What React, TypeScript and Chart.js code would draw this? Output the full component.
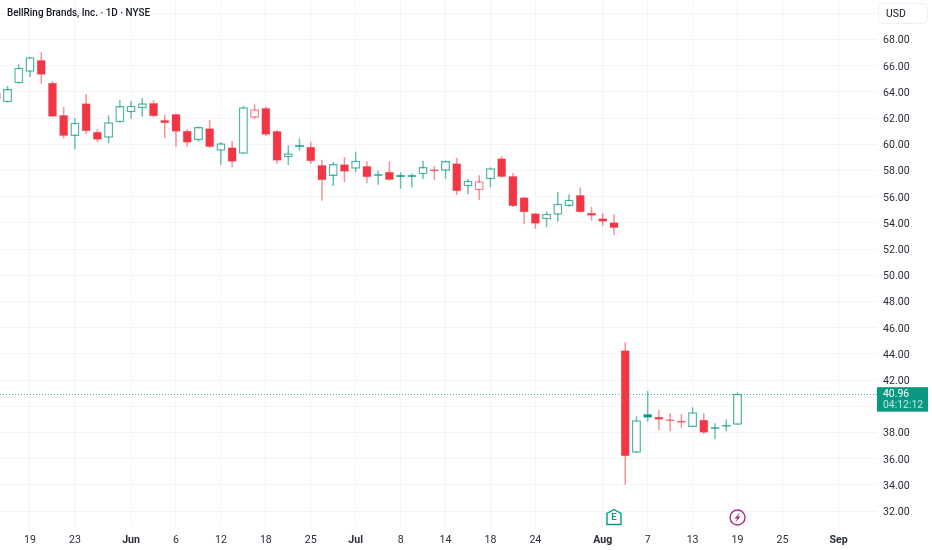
import React, { useEffect, useRef } from "react";
import { Chart, registerables } from "chart.js";

Chart.register(...registerables);

const titleText = "BellRing Brands, Inc. · 1D · NYSE";
const currency = "USD";
const countdown = "04:12:12";
const lastPrice = 40.96;

const indices = Array.from({ length: 67 }, (_, i) => i - 3);
const opens = [63.92,63.21,64.66,65.54,66.43,64.70,62.24,60.63,63.13,60.96,60.50,61.68,62.44,62.75,63.15,61.85,62.31,61.04,60.30,61.22,59.51,59.77,59.28,62.03,62.77,61.01,59.01,59.79,59.82,58.42,57.58,58.47,58.14,58.34,57.71,57.91,57.68,57.48,57.71,58.09,57.98,58.55,56.79,56.49,57.33,58.93,57.58,55.95,54.73,54.27,54.62,55.29,56.13,54.78,54.35,54.04,44.27,36.45,39.41,39.20,38.85,38.85,38.42,38.97,38.32,38.44,38.59];
const highs = [63.99,64.45,66.11,66.66,67.02,64.83,62.85,62.01,63.84,61.14,62.21,63.38,63.30,63.53,63.36,62.26,62.35,61.14,61.37,61.85,60.17,60.25,62.92,63.05,62.87,61.09,59.92,60.46,60.21,58.82,58.65,59.03,59.43,58.70,57.98,58.70,57.86,57.78,58.75,58.32,58.75,58.98,57.35,57.63,58.24,59.08,57.81,55.98,54.75,54.88,56.36,56.18,56.69,55.21,54.75,54.65,44.88,39.23,41.16,39.71,39.46,39.41,39.92,39.46,38.70,39.00,41.06];
const lows = [63.38,63.19,64.64,65.14,64.63,62.08,60.43,59.62,60.79,60.15,60.07,61.66,61.95,62.11,62.08,60.48,59.82,59.82,60.20,59.72,58.42,58.24,59.26,61.95,60.63,58.52,58.42,59.51,58.49,55.69,56.82,57.12,57.88,57.02,56.91,57.25,56.61,56.72,57.35,57.27,57.37,56.15,56.18,55.75,56.72,57.45,55.21,53.89,53.55,53.66,54.09,55.23,54.79,54.17,53.76,53.07,34.01,36.43,38.82,38.18,38.09,38.32,38.41,37.88,37.50,38.09,38.57];
const closes = [63.46,64.22,65.85,66.64,65.31,62.11,60.63,61.65,60.99,60.35,61.68,62.92,62.95,63.13,62.14,61.60,60.96,60.12,61.32,59.79,60.07,58.67,62.82,62.67,60.73,58.75,59.32,59.87,58.71,57.25,58.50,57.91,58.75,57.48,57.58,57.27,57.48,57.66,58.27,57.94,58.72,56.41,57.22,57.17,58.17,57.50,55.26,54.81,53.94,54.70,55.46,55.77,54.81,54.55,54.09,53.61,36.18,38.93,39.13,38.97,38.93,38.74,39.54,37.98,38.26,38.49,40.96];

const xTickIndices = [0, 4, 9, 13, 17, 21, 25, 29, 33, 37, 41, 45, 51, 55, 59, 63, 67, 72];
const xTickLabels = ["19", "23", "Jun", "6", "12", "18", "25", "Jul", "8", "14", "18", "24", "Aug", "7", "13", "19", "25", "Sep"];
const boldLabels = ["Jun", "Jul", "Aug", "Sep"];
const yTickValues = [70, 68, 66, 64, 62, 60, 58, 56, 54, 52, 50, 48, 46, 44, 42, 40, 38, 36, 34, 32];
const hiddenYTicks = [70];
const earningsIndex = 52;
const dividendIndex = 63;

const RED = "#F23645";
const GREEN = "#089981";
const GREEN_SOFT = "rgba(8,153,129,0.7)";
const RED_SOFT = "rgba(242,54,69,0.6)";
const GREEN_WICK = "rgba(8,153,129,0.6)";
const RED_WICK = "rgba(242,54,69,0.55)";
const GRID = "#f3f4f6";
const FONT = "Roboto, 'Noto Sans', sans-serif";

const candleColor = (i: number) => (i === 0 ? RED : closes[i] >= closes[i - 1] ? GREEN : RED);
const hollow = (i: number) => closes[i] > opens[i];

const overlay = {
  id: "overlay",
  beforeDraw(chart: any) {
    // Nudge the price-axis labels down to sit centred on their gridlines
    chart.scales.y.getLabelItems(chart.chartArea).forEach((item: any) => {
      item.options.translation = [item.options.translation[0], item.options.translation[1] + 1.3];
    });
  },
  afterDatasetsDraw(chart: any) {
    const { ctx, scales, chartArea } = chart;
    const y = scales.y.getPixelForValue(lastPrice);
    ctx.save();
    ctx.strokeStyle = "rgba(8,153,129,0.75)";
    ctx.lineWidth = 1;
    ctx.setLineDash([1, 2]);
    ctx.beginPath();
    ctx.moveTo(chartArea.left, Math.round(y) + 0.5);
    ctx.lineTo(chartArea.right, Math.round(y) + 0.5);
    ctx.stroke();
    ctx.setLineDash([]);
    ctx.restore();
  },
  afterDraw(chart: any) {
    const { ctx, scales } = chart;
    const y = scales.y.getPixelForValue(lastPrice);
    ctx.save();
    ctx.fillStyle = GREEN;
    ctx.fillRect(877, y - 6.5, 51, 24.5);
    ctx.textBaseline = "middle";
    ctx.textAlign = "left";
    ctx.font = `10.4px ${FONT}`;
    ctx.fillStyle = "#ffffff";
    ctx.fillText(lastPrice.toFixed(2), 883, y + 1);
    ctx.fillStyle = "rgba(255,255,255,0.75)";
    ctx.fillText(countdown, 883, y + 12);

    ctx.fillStyle = "#131722";
    ctx.font = `500 11px ${FONT}`;
    ctx.fillText(titleText, 7, 13.5, 143);

    ctx.strokeStyle = "#eef0f3";
    ctx.beginPath();
    ctx.roundRect(878.5, 3.5, 49, 20, 4);
    ctx.stroke();
    ctx.fillStyle = "#131722";
    ctx.font = `10.4px ${FONT}`;
    ctx.fillText(currency, 886, 14);

    const ex = scales.x.getPixelForValue(earningsIndex);
    ctx.strokeStyle = GREEN;
    ctx.lineWidth = 1.4;
    ctx.beginPath();
    ctx.moveTo(ex, 509.5);
    ctx.lineTo(ex + 7, 513.5);
    ctx.lineTo(ex + 7, 524.5);
    ctx.lineTo(ex - 7, 524.5);
    ctx.lineTo(ex - 7, 513.5);
    ctx.closePath();
    ctx.stroke();
    ctx.fillStyle = GREEN;
    ctx.font = `bold 9.5px ${FONT}`;
    ctx.textAlign = "center";
    ctx.fillText("E", ex, 518);

    const dx = scales.x.getPixelForValue(dividendIndex);
    ctx.strokeStyle = "#b42c83";
    ctx.lineWidth = 1.4;
    ctx.beginPath();
    ctx.arc(dx, 517.5, 7.5, 0, Math.PI * 2);
    ctx.stroke();
    ctx.fillStyle = "#b42c83";
    ctx.beginPath();
    ctx.moveTo(dx + 2.5, 512.5);
    ctx.lineTo(dx - 3, 518.5);
    ctx.lineTo(dx - 0.3, 518.5);
    ctx.lineTo(dx - 2.2, 522.5);
    ctx.lineTo(dx + 3, 516.5);
    ctx.lineTo(dx + 0.4, 516.5);
    ctx.closePath();
    ctx.fill();
    ctx.restore();
  },
};

const noPadding = (s: any) => {
  s.paddingLeft = 0;
  s.paddingRight = 0;
  s.paddingTop = 0;
  s.paddingBottom = 0;
};

export default function App() {
  const ref = useRef<HTMLCanvasElement | null>(null);

  useEffect(() => {
    const chart = new Chart(ref.current as HTMLCanvasElement, {
      type: "bar",
      data: {
        datasets: [
          {
            label: "Open/Close",
            order: 0,
            data: indices.map((x, i) => ({ x, y: [opens[i], closes[i]] })),
            barThickness: 9,
            minBarLength: 2,
            inflateAmount: 0,
            borderSkipped: false,
            borderWidth: indices.map((_, i) => (hollow(i) ? 1.5 : 0.5)),
            borderColor: indices.map((_, i) =>
              hollow(i)
                ? candleColor(i) === GREEN
                  ? GREEN_SOFT
                  : RED_SOFT
                : candleColor(i) === GREEN
                ? "rgba(8,153,129,0.5)"
                : "rgba(242,54,69,0.5)"
            ),
            backgroundColor: indices.map((_, i) =>
              hollow(i) ? "#ffffff" : candleColor(i)
            ),
          },
          {
            label: "High/Low",
            order: 1,
            data: indices.map((x, i) => ({ x, y: [lows[i], highs[i]] })),
            barThickness: 1.5,
            inflateAmount: 0,
            borderWidth: 0,
            backgroundColor: indices.map((_, i) =>
              candleColor(i) === GREEN ? GREEN_WICK : RED_WICK
            ),
          },
        ],
      } as any,
      options: {
        animation: false,
        responsive: false,
        devicePixelRatio: 1,
        layout: { padding: 0 },
        plugins: { legend: { display: false }, tooltip: { enabled: false } },
        datasets: { bar: { grouped: false } },
        scales: {
          x: {
            type: "linear",
            offset: false,
            min: -2.671,
            max: 75.42,
            bounds: "data",
            afterBuildTicks: (s: any) => {
              s.ticks = xTickIndices.map((value) => ({ value }));
            },
            afterFit: (s: any) => {
              s.height = 23;
              noPadding(s);
            },
            border: { display: false },
            grid: { color: GRID, drawTicks: false, lineWidth: 1, offset: false },
            ticks: {
              autoSkip: false,
              maxRotation: 0,
              padding: 7,
              color: "#2a2e39",
              font: (c: any) => ({
                family: FONT,
                size: 10.6,
                weight:
                  c.tick && boldLabels.includes(xTickLabels[xTickIndices.indexOf(c.tick.value)])
                    ? "bold"
                    : "normal",
              }),
              callback: (v: any) => xTickLabels[xTickIndices.indexOf(v)] ?? "",
            },
          },
          y: {
            type: "linear",
            position: "right",
            min: 30.78,
            max: 71.016,
            bounds: "data",
            afterBuildTicks: (s: any) => {
              s.ticks = yTickValues.map((value) => ({ value }));
            },
            afterFit: (s: any) => {
              s.width = 55;
              noPadding(s);
            },
            border: { display: false },
            grid: { color: GRID, drawTicks: false, lineWidth: 1 },
            ticks: {
              autoSkip: false,
              padding: 6,
              color: "#2a2e39",
              font: { family: FONT, size: 10.6 },
              callback: (v: any) => (hiddenYTicks.includes(v) ? "" : Number(v).toFixed(2)),
            },
          },
        },
      } as any,
      plugins: [overlay],
    });
    return () => chart.destroy();
  }, []);

  return (
    <div style={{ position: "fixed", left: 0, top: 0, width: 932, height: 550, background: "#fff" }}>
      <canvas ref={ref} width={932} height={550} style={{ display: "block" }} />
    </div>
  );
}
